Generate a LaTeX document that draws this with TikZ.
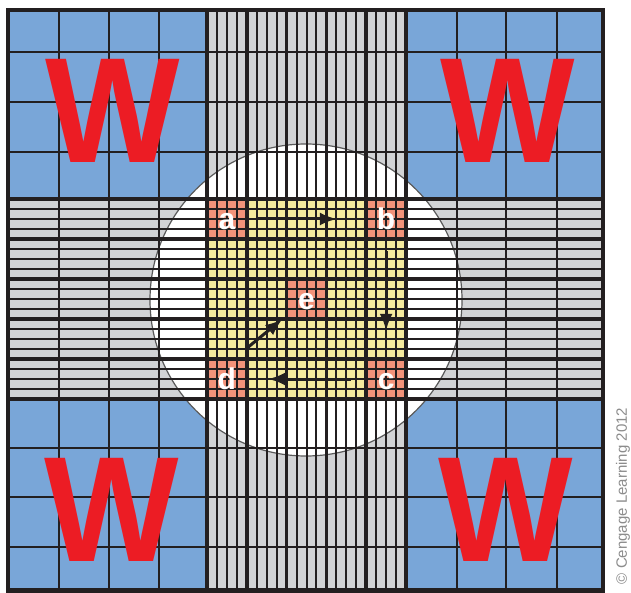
\documentclass[tikz,border=0pt]{standalone}
\usepackage{fontspec}
\setmainfont{Liberation Sans}
\usepackage{tikz}
\usetikzlibrary{arrows.meta,positioning,calc}
\definecolor{wblue}{HTML}{79A6D8}
\definecolor{strip}{HTML}{D2D3D5}
\definecolor{cyel}{HTML}{F5EA9E}
\definecolor{cor}{HTML}{F2937A}
\definecolor{wred}{HTML}{EC1C24}
\definecolor{ink}{HTML}{231F20}

\begin{document}
\begin{tikzpicture}[x=1pt,y=-1pt,>={Latex[length=17pt,width=13pt]},
gl/.style={draw=ink,line width=2pt},
gk/.style={draw=ink,line width=3.6pt},
lt/.style={minimum size=40pt,inner sep=0pt,text=white,text height=21.5pt,text depth=0pt,font=\fontsize{30}{30}\selectfont\bfseries},
bw/.style={inner sep=0pt,text=wred,xscale=0.95,font=\fontsize{150}{150}\selectfont\bfseries},
mv/.style={->,draw=ink,line width=3pt}]
\useasboundingbox (0,0) rectangle (631,593);
\fill[white] (0,0) rectangle (631,593);
\fill[wblue] (8,10) rectangle (603,590.5);
\fill[strip] (207,10) rectangle (406,590.5);
\fill[strip] (8,199) rectangle (603,399);
\fill[white] (306,300) circle[radius=156];
\fill[cyel] (207,199) rectangle (406,399);
\foreach \cx/\cy in {226.9/219,386.1/219,386.1/379,226.9/379,306.5/299}{\fill[cor] (\cx-19.9,\cy-20) rectangle (\cx+19.9,\cy+20);}
\draw[line width=1.2pt,black!65] (306,300) circle[radius=156];
\foreach \x in {59,109,159,457,506,557}{\draw[gl] (\x,10)--(\x,590.5);}
\foreach \y in {52,102,152,448,497,547}{\draw[gl] (8,\y)--(603,\y);}
\foreach \i in {1,...,19}{\draw[gl] (207+9.95*\i,10)--(207+9.95*\i,590.5);}
\foreach \i in {1,...,19}{\draw[gl] (8,199+10*\i)--(603,199+10*\i);}
\foreach \i in {0,...,5}{\draw[gk] (207+39.8*\i,10)--(207+39.8*\i,590.5);}
\foreach \i in {0,...,5}{\draw[gk] (8,199+40*\i)--(603,199+40*\i);}
\draw[draw=ink,line width=4.2pt] (8,10) rectangle (603,590.5);
\node[bw] (w1) at (113,111) {W};
\node[bw] (w2) at (508,111) {W};
\node[bw] (w3) at (112,510) {W};
\node[bw] (w4) at (506,510) {W};
\node[lt] (a) at (226.9,219) {a};
\node[lt] (b) at (386.1,219) {b};
\node[lt] (c) at (386.1,379) {c};
\node[lt] (d) at (226.9,379) {d};
\node[lt] (e) at (306.5,299) {e};
\draw[mv,shorten <=9pt,shorten >=29pt] (a)--(b);
\draw[mv,shorten <=12pt,shorten >=28pt] (b)--(c);
\draw[mv,shorten <=15pt,shorten >=21pt] (c)--(d);
\draw[mv] ($(d.north east)+(-1,-10)$)--($(e.south west)+(-4,0)$);
\node[rotate=90,text=black!45,font=\fontsize{15}{15}\selectfont] (cr) at (623,496) {© Cengage Learning 2012};
\end{tikzpicture}
\end{document}
